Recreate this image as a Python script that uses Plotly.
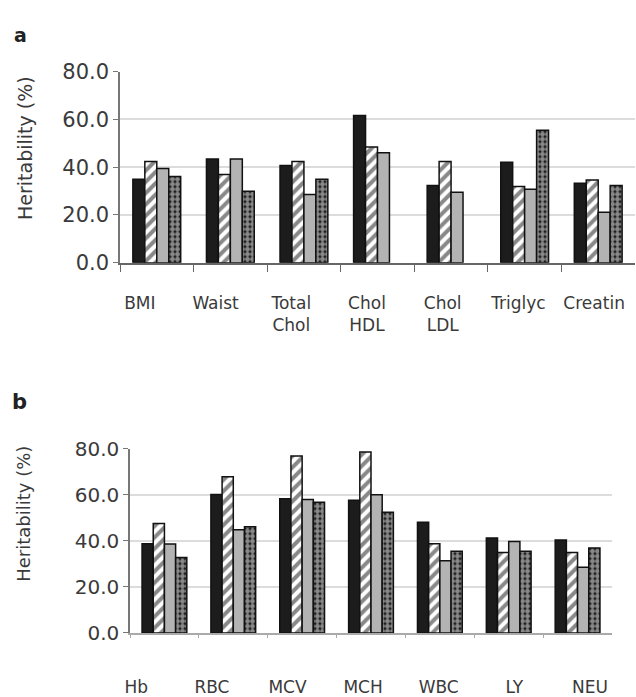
import plotly.graph_objects as go

# Panel a: metabolic / anthropometric traits
cats_a = ["BMI", "Waist", "Total<br>Chol", "Chol<br>HDL", "Chol<br>LDL", "Triglyc", "Creatin"]
a_solid = [35.0, 43.4, 40.7, 61.7, 32.3, 42.1, 33.3]
a_hatch = [42.4, 37.0, 42.4, 48.5, 42.4, 31.9, 34.6]
a_grey = [39.5, 43.4, 28.6, 46.1, 29.5, 30.8, 21.1]
a_check = [36.1, 29.9, 35.0, None, None, 55.5, 32.3]

# Panel b: haematological traits
cats_b = ["Hb", "RBC", "MCV", "MCH", "WBC", "LY", "NEU"]
b_solid = [38.7, 60.1, 58.3, 57.6, 48.1, 41.2, 40.4]
b_hatch = [47.5, 67.8, 76.8, 78.6, 38.7, 34.9, 34.9]
b_grey = [38.6, 44.8, 57.9, 60.0, 31.3, 39.7, 28.5]
b_check = [32.8, 46.1, 56.8, 52.4, 35.5, 35.5, 36.9]

y_ticks = [0, 20, 40, 60, 80]

W, H = 636, 697
FONT = "DejaVu Sans"
TXT = "#3a3a3a"


def px_x(p):
    return p / W


def px_y(p):
    return 1 - p / H


styles = [
    dict(marker=dict(color="#1c1c1c", line=dict(color="#111", width=1.5))),
    dict(marker=dict(color="white", line=dict(color="#111", width=1.5),
                     pattern=dict(shape="/", fgcolor="#111", bgcolor="white",
                                  size=8, solidity=0.5))),
    dict(marker=dict(color="#b3b3b3", line=dict(color="#111", width=1.5))),
    dict(marker=dict(color="#111", line=dict(color="#111", width=1.5),
                     pattern=dict(shape=".", fgcolor="white", bgcolor="#111",
                                  size=5, solidity=0.75))),
]
names = ["solid", "hatched", "grey", "checked"]

fig = go.Figure()
for cats, series, xa, ya in [
    (cats_a, [a_solid, a_hatch, a_grey, a_check], "x", "y"),
    (cats_b, [b_solid, b_hatch, b_grey, b_check], "x2", "y2"),
]:
    for name, vals, st in zip(names, series, styles):
        fig.add_trace(go.Bar(x=cats, y=vals, name=name, xaxis=xa, yaxis=ya,
                             showlegend=False, **st))

# empty traces so the category-label axes get drawn
fig.add_trace(go.Scatter(x=[None], y=[None], xaxis="x3", yaxis="y3",
                         showlegend=False, hoverinfo="skip"))
fig.add_trace(go.Scatter(x=[None], y=[None], xaxis="x4", yaxis="y4",
                         showlegend=False, hoverinfo="skip"))

yaxis_common = dict(
    range=[0, 80], tickvals=y_ticks, tickformat=".1f",
    showgrid=True, gridcolor="#dcdcdc", gridwidth=1.5,
    showline=True, linecolor="#777", linewidth=1.5,
    ticks="outside", ticklen=5, tickcolor="#777",
    tickfont=dict(family=FONT, size=21, color=TXT),
    zeroline=False,
)


def label_axis(cats, dom, anchor, standoff):
    return dict(domain=dom, anchor=anchor, range=[-0.5, len(cats) - 0.5],
                tickmode="array", tickvals=list(range(len(cats))), ticktext=cats,
                showgrid=False, zeroline=False, showline=False, ticks="",
                ticklabelstandoff=standoff,
                tickfont=dict(family=FONT, size=17, color=TXT))


hidden_y = dict(visible=False, range=[0, 1], showgrid=False, zeroline=False)

fig.update_layout(
    width=W, height=H,
    margin=dict(l=0, r=0, t=0, b=0),
    paper_bgcolor="white", plot_bgcolor="rgba(0,0,0,0)",
    barmode="group", bargap=0.35, bargroupgap=0,
    font=dict(family=FONT, color=TXT),
    xaxis=dict(domain=[px_x(120), px_x(635)], anchor="y",
               type="category", tickson="boundaries",
               showline=True, linecolor="#666", linewidth=1.5,
               ticks="outside", ticklen=8, tickcolor="#666",
               showticklabels=False),
    yaxis=dict(domain=[px_y(260), px_y(62)], anchor="x", **yaxis_common),
    xaxis2=dict(domain=[px_x(130), px_x(612)], anchor="y2",
                type="category", tickson="boundaries",
                showline=True, linecolor="#aaa", linewidth=1.5,
                ticks="outside", ticklen=3, tickcolor="#aaa",
                showticklabels=False),
    yaxis2=dict(domain=[px_y(644), px_y(453)], anchor="x2",
                **{**yaxis_common, "tickfont": dict(family=FONT, size=20, color=TXT)}),
    xaxis3=label_axis(cats_a, [px_x(102), px_x(632)], "y3", 28),
    yaxis3=dict(domain=[px_y(260), px_y(62)], anchor="x3", **hidden_y),
    xaxis4=label_axis(cats_b, [px_x(98.5), px_x(627.7)], "y4", 42),
    yaxis4=dict(domain=[px_y(644), px_y(453)], anchor="x4", **hidden_y),
    annotations=[
        dict(text="<b>a</b>", x=px_x(12), y=px_y(10), xref="paper", yref="paper",
             xanchor="left", yanchor="top", showarrow=False,
             font=dict(family=FONT, size=19, color="#222")),
        dict(text="<b>b</b>", x=px_x(10), y=px_y(390), xref="paper", yref="paper",
             xanchor="left", yanchor="top", showarrow=False,
             font=dict(family=FONT, size=21, color="#222")),
        dict(text="Heritability (%)", textangle=-90, x=px_x(12), y=px_y(141),
             xref="paper", yref="paper", xanchor="left", yanchor="middle",
             showarrow=False, font=dict(family=FONT, size=19, color=TXT)),
        dict(text="Heritability (%)", textangle=-90, x=px_x(11), y=px_y(521),
             xref="paper", yref="paper", xanchor="left", yanchor="middle",
             showarrow=False, font=dict(family=FONT, size=18, color=TXT)),
    ],
)

fig.write_html("out.html")
